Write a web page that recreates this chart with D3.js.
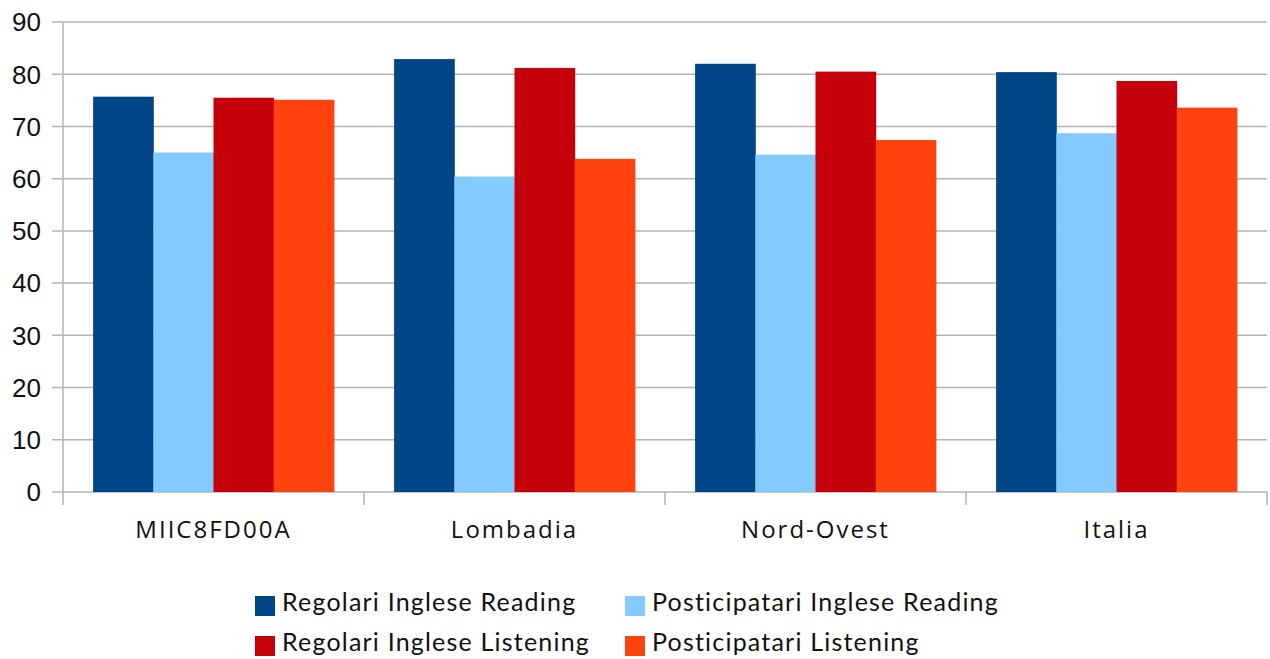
<!DOCTYPE html>
<html>
<head>
<meta charset="utf-8">
<script src="https://cdn.jsdelivr.net/npm/d3@7"></script>
<style>
  html, body { margin: 0; padding: 0; background: #fff; }
  svg { display: block; }
</style>
</head>
<body>
<svg id="chart"></svg>
<script>
// categories and series
const categories = ["MIIC8FD00A", "Lombadia", "Nord-Ovest", "Italia"];
const seriesNames = [
  "Regolari Inglese Reading",
  "Posticipatari Inglese Reading",
  "Regolari Inglese Listening",
  "Posticipatari Listening"
];
const regolariReading = [75.7, 82.9, 82.0, 80.4];
const posticipatariReading = [65.0, 60.4, 64.6, 68.7];
const regolariListening = [75.5, 81.2, 80.5, 78.7];
const posticipatariListening = [75.1, 63.8, 67.4, 73.6];
const yTicks = [0, 10, 20, 30, 40, 50, 60, 70, 80, 90];

const colors = ["#004586", "#83caff", "#c5000b", "#ff420e"];
const seriesValues = [regolariReading, posticipatariReading, regolariListening, posticipatariListening];

const width = 1270, height = 659;
const margin = { top: 22, right: 3, bottom: 167, left: 63 };
const innerW = width - margin.left - margin.right;
const innerH = height - margin.top - margin.bottom;

const svg = d3.select("#chart").attr("width", width).attr("height", height);
const g = svg.append("g").attr("transform", `translate(${margin.left},${margin.top})`);

const x0 = d3.scaleBand().domain(categories).range([0, innerW]).padding(0);
const x1 = d3.scaleBand().domain(d3.range(seriesNames.length))
  .range([0, x0.bandwidth()]).paddingInner(0).paddingOuter(0.5);
const y = d3.scaleLinear().domain([0, 90]).range([innerH, 0]);

// gridlines + left ticks
g.append("g")
  .selectAll("line")
  .data(yTicks)
  .join("line")
  .attr("x1", -11)
  .attr("x2", innerW)
  .attr("y1", d => y(d))
  .attr("y2", d => y(d))
  .attr("stroke", "#b3b3b3")
  .attr("stroke-width", 1.5);

// y labels
g.append("g")
  .selectAll("text")
  .data(yTicks)
  .join("text")
  .attr("x", -22)
  .attr("y", d => y(d))
  .attr("dy", "0.36em")
  .attr("text-anchor", "end")
  .attr("font-family", "Liberation Sans, Arial, sans-serif")
  .attr("font-size", 26)
  .attr("fill", "#111")
  .text(d => d);

// bars
const groups = g.append("g")
  .selectAll("g")
  .data(categories)
  .join("g")
  .attr("transform", d => `translate(${x0(d)},0)`);

groups.selectAll("rect")
  .data((d, i) => seriesValues.map((s, k) => ({ k, v: s[i] })))
  .join("rect")
  .attr("x", d => x1(d.k))
  .attr("width", x1.bandwidth() + 0.5)
  .attr("y", d => y(d.v))
  .attr("height", d => innerH - y(d.v))
  .attr("fill", d => colors[d.k]);

// y axis line
g.append("line")
  .attr("x1", 0).attr("x2", 0)
  .attr("y1", 0).attr("y2", innerH)
  .attr("stroke", "#b3b3b3").attr("stroke-width", 1.5);

// category separators below x axis
g.append("g")
  .selectAll("line")
  .data(d3.range(categories.length + 1))
  .join("line")
  .attr("x1", i => i * x0.step())
  .attr("x2", i => i * x0.step())
  .attr("y1", innerH)
  .attr("y2", innerH + 13)
  .attr("stroke", "#b3b3b3")
  .attr("stroke-width", 1.5);

// category labels
g.append("g")
  .selectAll("text")
  .data(categories)
  .join("text")
  .attr("x", d => x0(d) + x0.bandwidth() / 2)
  .attr("y", innerH + 46)
  .attr("text-anchor", "middle")
  .attr("font-family", "Open Sans, sans-serif")
  .attr("font-size", 24)
  .attr("letter-spacing", 2)
  .attr("fill", "#111")
  .text(d => d);

// legend
const legendPos = [
  { x: 255, y: 611 },
  { x: 625, y: 611 },
  { x: 255, y: 651 },
  { x: 625, y: 651 }
];
const legend = svg.append("g")
  .selectAll("g")
  .data(seriesNames)
  .join("g")
  .attr("transform", (d, i) => `translate(${legendPos[i].x},${legendPos[i].y})`);

legend.append("rect")
  .attr("x", 0).attr("y", -15)
  .attr("width", 20).attr("height", 20)
  .attr("fill", (d, i) => colors[i]);

legend.append("text")
  .attr("x", 27)
  .attr("y", 0)
  .attr("font-family", "Lato, Carlito, sans-serif")
  .attr("font-size", 25)
  .attr("letter-spacing", 1.2)
  .attr("fill", "#111")
  .text(d => d);
</script>
</body>
</html>
